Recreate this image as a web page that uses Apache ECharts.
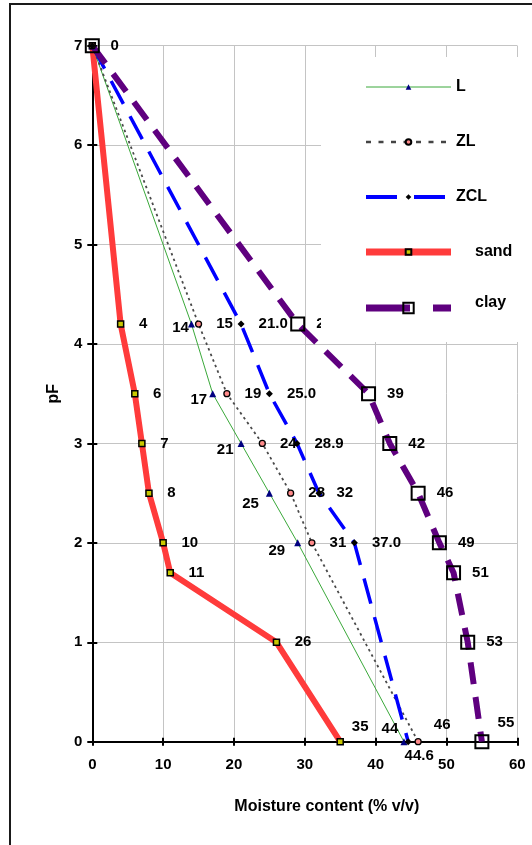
<!DOCTYPE html>
<html>
<head>
<meta charset="utf-8">
<script src="https://cdn.jsdelivr.net/npm/echarts@6/dist/echarts.min.js"></script>
<style>
  html, body { margin: 0; padding: 0; background: #fff; }
  #chart { width: 532px; height: 845px; }
</style>
</head>
<body>
<div id="chart"></div>
<script>
// Water retention (pF) versus moisture content (% v/v) for five soil textures

const pfL = [7, 4.2, 3.5, 3, 2.5, 2, 0];
const moistL = [0, 14, 17, 21, 25, 29, 44];
const labelsL = ['', '14', '17', '21', '25', '29', '44'];

const pfZL = [7, 4.2, 3.5, 3, 2.5, 2, 0];
const moistZL = [0, 15, 19, 24, 28, 31, 46];
const labelsZL = ['', '15', '19', '24', '28', '31', '46'];

const pfZCL = [7, 4.2, 3.5, 3, 2.5, 2, 0];
const moistZCL = [0, 21.0, 25.0, 28.9, 32, 37.0, 44.6];
const labelsZCL = ['', '21.0', '25.0', '28.9', '32', '37.0', '44.6'];

const pfSand = [7, 4.2, 3.5, 3, 2.5, 2, 1.7, 1, 0];
const moistSand = [0, 4, 6, 7, 8, 10, 11, 26, 35];
const labelsSand = ['0', '4', '6', '7', '8', '10', '11', '26', '35'];

const pfClay = [7, 4.2, 3.5, 3, 2.5, 2, 1.7, 1, 0];
const moistClay = [0, 29, 39, 42, 46, 49, 51, 53, 55];
const labelsClay = ['', '29', '39', '42', '46', '49', '51', '53', '55'];

const seriesNames = ['L', 'ZL', 'ZCL', 'sand', 'clay'];
const xAxisTitle = 'Moisture content (% v/v)';
const yAxisTitle = 'pF';

// ---- styling ----
const FONT = '"Liberation Sans", Arial, Helvetica, sans-serif';
const labelBase = { show: true, color: '#000', fontFamily: FONT, fontWeight: 'bold', fontSize: 15 };

function buildData(xs, ys, texts, place) {
  return xs.map((x, i) => {
    const item = { value: [x, ys[i]] };
    if (texts[i] === '') {
      item.label = { show: false };
    } else {
      item.label = Object.assign({}, labelBase, { formatter: texts[i] }, place(i, xs.length));
    }
    return item;
  });
}

// label placement rules
const toRight = (d, lastOffset) => (i, n) =>
  i === n - 1 ? { position: 'inside', offset: lastOffset } : { position: 'right', distance: d };
const lNudge = [[0, 0], [3, 4], [0, 6], [-2, 6], [-5, 11], [-7, 8]];
const toLeftL = (i, n) =>
  i === n - 1 ? { position: 'inside', offset: [-14, -13] }
              : { position: 'left', distance: 2, offset: lNudge[i] };

const chart = echarts.init(document.getElementById('chart'), null, { renderer: 'canvas' });

const axisLabelStyle = { color: '#000', fontFamily: FONT, fontWeight: 'bold', fontSize: 15 };
const legendText = { fontFamily: FONT, fontWeight: 'bold', fontSize: 16, color: '#000', lineHeight: 16 };

chart.setOption({
  animation: false,
  backgroundColor: '#fff',
  grid: { left: 92.3, right: 14.7, top: 45.7, bottom: 103.3, containLabel: false },
  graphic: [{
    type: 'rect', silent: true, z: 0,
    shape: { x: 10, y: 4, width: 620, height: 900 },
    style: { fill: 'none', stroke: '#1a1a1a', lineWidth: 2 }
  }],
  legend: [{
    // small-marker entries
    orient: 'vertical', left: 321, top: 57,
    data: [
      { name: 'L' },
      { name: 'ZL', lineStyle: { type: [5, 7.5], width: 2.7, color: '#444' } },
      { name: 'ZCL', lineStyle: { type: [31, 17], width: 4 } },
      { name: 'sand', lineStyle: { width: 7 }, textStyle: { padding: [0, 0, 0, 19] } }
    ],
    itemWidth: 85, itemHeight: 7, itemGap: 39,
    padding: [22, 30, 24, 41.5],
    backgroundColor: '#fff',
    selectedMode: false,
    lineStyle: { width: 'inherit' },
    textStyle: legendText
  }, {
    // large-marker entry
    orient: 'vertical', left: 321, top: 280,
    data: [{ name: 'clay', lineStyle: { type: [44, 23], width: 7 } }],
    formatter: '{c|{name}}',
    itemWidth: 85, itemHeight: 13,
    padding: [15, 30, 21, 41.5],
    backgroundColor: '#fff',
    selectedMode: false,
    lineStyle: { width: 'inherit' },
    textStyle: Object.assign({}, legendText, {
      rich: { c: Object.assign({}, legendText, { padding: [0, 0, 10, 19] }) }
    })
  }],
  xAxis: [{
    type: 'value', min: 0, max: 60, interval: 10,
    name: xAxisTitle, nameLocation: 'middle', nameGap: 57,
    nameTextStyle: { color: '#000', fontFamily: FONT, fontWeight: 'bold', fontSize: 16, padding: [0, 0, 0, 44] },
    axisLine: { show: true, onZero: false, lineStyle: { color: '#000', width: 2 } },
    axisTick: { show: true, inside: false, length: 4, lineStyle: { color: '#000', width: 2 } },
    axisLabel: Object.assign({ margin: 16 }, axisLabelStyle),
    splitLine: { show: true, lineStyle: { color: '#c4c4c4', width: 1 } }
  }, {
    type: 'value', min: 0, max: 60, interval: 10, position: 'bottom',
    axisLine: { show: false },
    axisTick: { show: true, inside: true, length: 4, lineStyle: { color: '#000', width: 2 } },
    axisLabel: { show: false },
    splitLine: { show: false }
  }],
  yAxis: [{
    type: 'value', min: 0, max: 7, interval: 1,
    name: yAxisTitle, nameLocation: 'middle', nameGap: 31, nameRotate: 90,
    nameTextStyle: { color: '#000', fontFamily: FONT, fontWeight: 'bold', fontSize: 16 },
    axisLine: { show: true, onZero: false, lineStyle: { color: '#000', width: 2 } },
    axisTick: { show: true, inside: false, length: 5, lineStyle: { color: '#000', width: 2 } },
    axisLabel: Object.assign({ margin: 10 }, axisLabelStyle),
    splitLine: { show: true, lineStyle: { color: '#c4c4c4', width: 1 } }
  }, {
    type: 'value', min: 0, max: 7, interval: 1, position: 'left',
    axisLine: { show: false },
    axisTick: { show: true, inside: true, length: 5, lineStyle: { color: '#000', width: 2 } },
    axisLabel: { show: false },
    splitLine: { show: false }
  }],
  series: [
    {
      name: seriesNames[3], type: 'line', z: 2,
      data: buildData(moistSand, pfSand, labelsSand, toRight(14.5, [20, -15])),
      symbol: 'rect', symbolSize: 6,
      itemStyle: { color: '#c8c800', borderColor: '#000', borderWidth: 1.5 },
      lineStyle: { color: '#ff3b3b', width: 6 }
    },
    {
      name: seriesNames[0], type: 'line', z: 3,
      data: buildData(moistL, pfL, labelsL, toLeftL),
      symbol: 'triangle', symbolSize: 7,
      itemStyle: { color: '#000080' },
      lineStyle: { color: '#3aa83a', width: 1 }
    },
    {
      name: seriesNames[1], type: 'line', z: 3,
      data: buildData(moistZL, pfZL, labelsZL, toRight(14, [24, -17])),
      symbol: 'circle', symbolSize: 6,
      itemStyle: { color: '#ff8a8a', borderColor: '#000', borderWidth: 1.3 },
      lineStyle: { color: '#4a4a4a', width: 1.8, type: [2.5, 3.5] }
    },
    {
      name: seriesNames[2], type: 'line', z: 3,
      data: buildData(moistZCL, pfZCL, labelsZCL, toRight(14, [11, 14])),
      symbol: 'diamond', symbolSize: 7,
      itemStyle: { color: '#000' },
      lineStyle: { color: '#0000ff', width: 3.5, type: [26, 14] }
    },
    {
      name: seriesNames[4], type: 'line', z: 3,
      data: buildData(moistClay, pfClay, labelsClay, toRight(11, [24, -19])),
      symbol: 'rect', symbolSize: 13,
      itemStyle: { color: 'rgba(255,255,255,0)', borderColor: '#000', borderWidth: 2 },
      lineStyle: { color: '#5f007f', width: 6, type: [22, 13] }
    }
  ]
});
</script>
</body>
</html>
